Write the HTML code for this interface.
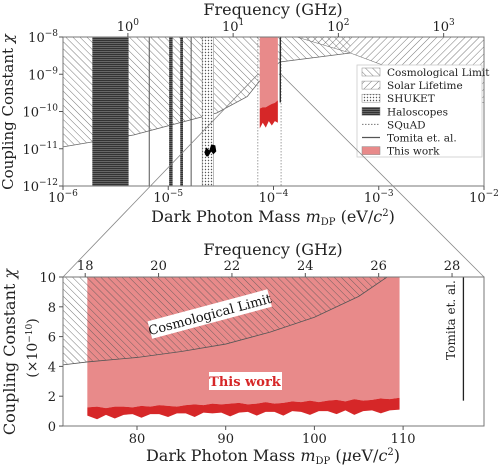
<!DOCTYPE html>
<html><head><meta charset="utf-8"><style>
body{margin:0;background:#fff;}
svg{display:block;font-family:"DejaVu Serif","Liberation Serif",serif;}
</style></head><body>
<svg id="c" width="500" height="466" viewBox="0 0 500 466">
<defs>
<pattern id="bs" width="5" height="5" patternUnits="userSpaceOnUse" patternTransform="rotate(-45)"><line x1="0" y1="0" x2="0" y2="5" stroke="#555" stroke-width="0.8"/></pattern>
<pattern id="fs" width="5" height="5" patternUnits="userSpaceOnUse" patternTransform="rotate(45)"><line x1="0" y1="0" x2="0" y2="5" stroke="#555" stroke-width="0.8"/></pattern>
<pattern id="dots" width="3" height="3" patternUnits="userSpaceOnUse"><rect width="3" height="3" fill="#fff"/><circle cx="1.5" cy="1.5" r="0.7" fill="#555"/></pattern>
<pattern id="hl" width="4" height="2" patternUnits="userSpaceOnUse"><rect width="4" height="2" fill="#666"/><line x1="0" y1="0.5" x2="4" y2="0.5" stroke="#333" stroke-width="1"/></pattern>
</defs>
<g id="top"></g>
<g id="bot"></g>
</svg>
<script>
// ---- top chart data ----
const cosmoMassLog=[-6,-5.33,-4.54,-4.25,-4.1,-3.94,-3.27];
const cosmoChiLog=[-10.95,-10.63,-10.04,-9.6,-9.07,-8.67,-8.43];
const solarMassLog=[-3.78,-3.27,-2.0];
const solarChiLog=[-8.0,-8.43,-9.77];
const haloBands=[[1.9e-6,4.2e-6],[1.02e-5,1.1e-5],[1.3e-5,1.38e-5]];
const haloLines=[6.6e-6,1.65e-5];
const shuket=[2.1e-5,2.7e-5];
const squad=[7.1e-5,1.18e-4];
const squadChi=1e-9;
const tomitaMass=1.16e-4, tomitaChi=[1e-8,1.75e-10];
const workTopMass=[7.4e-5,1.1e-4];
const workTopUpper=[1.2e-10,1.3e-10,1.3e-10,1.45e-10,1.6e-10,1.7e-10,2.0e-10];
const workTopLower=[3.5e-11,5e-11,3.7e-11,5.5e-11,4.2e-11,5.5e-11,5e-11];
const freqTicksTop=[1e0,1e1,1e2,1e3];
const freqTickLabelsTop=["0","1","2","3"];
const massTicksTop=[-6,-5,-4,-3,-2];
const chiTicksTop=[-8,-9,-10,-11,-12];
// ---- bottom chart data ----
const cosmoMassB=[71.6,74.4,80,85,90,95,100,105,108.2];
const cosmoChiB=[4.1,4.3,4.6,5.0,5.5,6.3,7.3,8.7,10];
const workMassB=[74.4,75.5,76.5,77.5,78.5,79.5,80.5,81.5,82.5,83.5,84.5,85.5,86.5,87.5,88.5,89.5,90.5,91.5,92.5,93.5,94.5,95.5,96.5,97.5,98.5,99.5,100.5,101.5,102.5,103.5,104.5,105.5,106.5,107.5,108.5,109.6];
const workUpperB=[1.25,1.3,1.2,1.3,1.3,1.25,1.35,1.3,1.4,1.35,1.3,1.4,1.45,1.4,1.5,1.45,1.5,1.55,1.45,1.5,1.6,1.5,1.55,1.65,1.6,1.7,1.6,1.7,1.75,1.65,1.8,1.7,1.75,1.85,1.8,1.9];
const workLowerB=[0.7,0.45,0.75,0.5,0.75,0.8,0.55,0.8,0.8,0.6,0.85,0.85,0.6,0.9,0.85,0.9,0.65,0.9,0.95,0.7,0.95,0.95,0.7,1.0,0.95,0.75,1.0,1.0,0.8,1.05,0.75,1.0,1.05,0.85,1.05,1.1];
const tomitaB=[116.8,10,1.7];
const massTicksB=[80,90,100,110];
const freqTicksB=[18,20,22,24,26,28];
const chiTicksB=[0,2,4,6,8,10];

const NS="http://www.w3.org/2000/svg";
function mk(tag,attrs,parent,txt){const e=document.createElementNS(NS,tag);for(const k in attrs)e.setAttribute(k,attrs[k]);if(txt!==undefined)e.textContent=txt;parent.appendChild(e);return e;}
const T=document.getElementById('top'),B=document.getElementById('bot');
const L=63,R=484,TT=37,TB=186;
const xT=m=>L+(Math.log10(m)+6)*105.25;
const xTl=l=>L+(l+6)*105.25;
const yT=c=>TT+(-8-Math.log10(c))*37.25;
const yTl=l=>TT+(-8-l)*37.25;
const K=4.1357e-6;

mk('clipPath',{id:'ct'},T);
mk('rect',{x:L,y:TT,width:R-L,height:TB-TT},document.getElementById('ct'));
const g=mk('g',{'clip-path':'url(#ct)'},T);
let d='M'+xTl(cosmoMassLog[0])+','+yTl(cosmoChiLog[0]);
cosmoMassLog.forEach((m,i)=>d+=' L'+xTl(m)+','+yTl(cosmoChiLog[i]));
d+=' L'+xTl(cosmoMassLog[cosmoMassLog.length-1])+','+TT+' L'+L+','+TT+'Z';
let e=mk('path',{d:d,fill:'url(#bs)'},g);

let dl='M'+xTl(cosmoMassLog[0])+','+yTl(cosmoChiLog[0]);
cosmoMassLog.forEach((m,i)=>dl+=' L'+xTl(m)+','+yTl(cosmoChiLog[i]));
mk('path',{d:dl,fill:'none',stroke:'#666','stroke-width':0.8},g);
let ds='M'+xTl(solarMassLog[0])+','+TT;
solarMassLog.forEach((m,i)=>ds+=' L'+xTl(m)+','+yTl(solarChiLog[i]));
ds+=' L'+R+','+yTl(solarChiLog[2])+' L'+R+','+TT+'Z';
e=mk('path',{d:ds,fill:'url(#fs)',stroke:'#777','stroke-width':0.6},g);

haloBands.forEach(b=>{const r=mk('rect',{x:xT(b[0]),y:TT,width:xT(b[1])-xT(b[0]),height:TB-TT,fill:'url(#hl)'},g);
});
haloLines.forEach(m=>mk('line',{x1:xT(m),x2:xT(m),y1:TT,y2:TB,stroke:'#555','stroke-width':1},g));
e=mk('rect',{x:xT(shuket[0]),y:TT,width:xT(shuket[1])-xT(shuket[0]),height:TB-TT,fill:'url(#dots)',stroke:'#777','stroke-width':0.5},g);

mk('path',{d:'M'+xT(2.2e-5)+','+yT(8e-12)+' l2,-5 l3,3 l2,-6 l4,1 l1,6 l-3,3 l-2,-3 l-3,5 l-2,0z',fill:'#000'},g);
squad.forEach(m=>mk('line',{x1:xT(m),x2:xT(m),y1:TT,y2:TB,stroke:'#777','stroke-width':0.7,'stroke-dasharray':'1.5,1.5'},g));
mk('line',{x1:xT(squad[0]),x2:xT(squad[1]),y1:yT(squadChi),y2:yT(squadChi),stroke:'#777','stroke-width':0.7,'stroke-dasharray':'1.5,1.5'},g);
const n=workTopUpper.length;
const wxs=i=>xT(workTopMass[0])+(xT(workTopMass[1])-xT(workTopMass[0]))*i/(n-1);
let dw='M'+wxs(0)+','+TT;
workTopUpper.forEach((c,i)=>dw+=' L'+wxs(i)+','+yT(c));
dw+=' L'+wxs(n-1)+','+TT+'Z';
e=mk('path',{d:dw,fill:'#e88a8a'},g);

let dd='M'+wxs(0)+','+yT(workTopUpper[0]);
workTopUpper.forEach((c,i)=>dd+=' L'+wxs(i)+','+yT(c));
for(let i=n-1;i>=0;i--)dd+=' L'+wxs(i)+','+yT(workTopLower[i]);
dd+='Z';
e=mk('path',{d:dd,fill:'#d62728'},g);

e=mk('line',{x1:xT(tomitaMass),x2:xT(tomitaMass),y1:yT(tomitaChi[0]),y2:yT(tomitaChi[1]),stroke:'#222','stroke-width':1.3},g);

mk('rect',{x:L,y:TT,width:R-L,height:TB-TT,fill:'none',stroke:'#777','stroke-width':1},T);
const fs=13;
massTicksTop.forEach(l=>{const x=xTl(l);mk('line',{x1:x,x2:x,y1:TB,y2:TB+4,stroke:'#555'},T);
const t=mk('text',{x:x,y:TB+16,'text-anchor':'middle','font-size':fs,fill:'#222'},T);
t.innerHTML='10<tspan dy="-6" font-size="9">'+(l).toString().replace('-','−')+'</tspan>';});
chiTicksTop.forEach(l=>{const y=yTl(l);mk('line',{x1:L-4,x2:L,y1:y,y2:y,stroke:'#555'},T);
const t=mk('text',{x:L-5,y:y+5,'text-anchor':'end','font-size':fs,fill:'#222'},T);
t.innerHTML='10<tspan dy="-6" font-size="9">'+l.toString().replace('-','−')+'</tspan>';});
freqTicksTop.forEach((f,i)=>{const x=xT(f*K);mk('line',{x1:x,x2:x,y1:TT-4,y2:TT,stroke:'#555'},T);
const t=mk('text',{x:x,y:TT-6,'text-anchor':'middle','font-size':fs,fill:'#222'},T);
t.innerHTML='10<tspan dy="-6" font-size="9">'+freqTickLabelsTop[i]+'</tspan>';});
e=mk('text',{x:273,y:15,'text-anchor':'middle','font-size':16,fill:'#222'},T,'Frequency (GHz)');
e=mk('text',{x:273,y:222,'text-anchor':'middle','font-size':16,fill:'#222'},T);e.innerHTML='Dark Photon Mass <tspan font-style="italic">m</tspan><tspan font-size="10" dy="3">DP</tspan><tspan dy="-3"> (eV/</tspan><tspan font-style="italic">c</tspan><tspan font-size="10" dy="-6">2</tspan><tspan dy="6">)</tspan>';

e=mk('text',{x:0,y:0,'text-anchor':'middle','font-size':15,fill:'#222',transform:'translate(13,112) rotate(-90)'},T);e.innerHTML='Coupling Constant <tspan font-style="italic">χ</tspan>';

const lg=mk('g',{},T);
mk('rect',{x:357,y:65,width:125,height:92,fill:'#fff',stroke:'#ccc','stroke-width':0.8},lg);
const items=[['Cosmological Limit','url(#bs)'],['Solar Lifetime','url(#fs)'],['SHUKET','url(#dots)'],['Haloscopes','url(#hl)'],['SQuAD','dash'],['Tomita et. al.','line'],['This work','#e88a8a']];
items.forEach((it,i)=>{const y=72+i*13.1;
if(it[1]==='dash')mk('line',{x1:362,x2:380,y1:y,y2:y,stroke:'#777','stroke-dasharray':'1.5,1.5'},lg);
else if(it[1]==='line')mk('line',{x1:362,x2:380,y1:y,y2:y,stroke:'#555','stroke-width':1.2},lg);
else mk('rect',{x:362,y:y-4,width:18,height:8,fill:it[1],stroke:'#888','stroke-width':0.5},lg);
const t=mk('text',{x:387,y:y+4,'font-size':10.5,fill:'#222'},lg,it[0]);});
mk('line',{x1:xT(squad[0]),y1:yT(squadChi),x2:63,y2:277,stroke:'#888','stroke-width':0.8},T);
mk('line',{x1:xT(squad[1]),y1:yT(squadChi),x2:484,y2:277,stroke:'#888','stroke-width':0.8},T);

// ---- bottom ----
const BT=277,BB=426;
const xB=m=>137+(m-80)*8.87;
const yB=c=>BB-c*14.9;
mk('clipPath',{id:'cb'},B);
mk('rect',{x:L,y:BT,width:R-L,height:BB-BT},document.getElementById('cb'));
const gb=mk('g',{'clip-path':'url(#cb)'},B);
const m=workMassB.length;
let wb='M'+xB(workMassB[0])+','+BT;
workMassB.forEach((mm,i)=>wb+=' L'+xB(mm)+','+yB(workUpperB[i]));
wb+=' L'+xB(workMassB[m-1])+','+BT+'Z';
e=mk('path',{d:wb,fill:'#e88a8a'},gb);
let wd='M'+xB(workMassB[0])+','+yB(workUpperB[0]);
workMassB.forEach((mm,i)=>wd+=' L'+xB(mm)+','+yB(workUpperB[i]));
for(let i=m-1;i>=0;i--)wd+=' L'+xB(workMassB[i])+','+yB(workLowerB[i]);
wd+='Z';
e=mk('path',{d:wd,fill:'#d62728'},gb);
let cb='M'+xB(cosmoMassB[0])+','+yB(cosmoChiB[0]);
cosmoMassB.forEach((mm,i)=>cb+=' L'+xB(mm)+','+yB(cosmoChiB[i]));
const cbl=cb;
cb+=' L'+L+','+BT+'Z';
e=mk('path',{d:cb,fill:'url(#bs)'},gb);
mk('path',{d:cbl,fill:'none',stroke:'#555','stroke-width':0.8},gb);
e=mk('line',{x1:xB(tomitaB[0]),x2:xB(tomitaB[0]),y1:yB(tomitaB[1]),y2:yB(tomitaB[2]),stroke:'#222','stroke-width':1.3},gb);

mk('rect',{x:L,y:BT,width:R-L,height:BB-BT,fill:'none',stroke:'#777','stroke-width':1},B);
massTicksB.forEach(v=>{const x=xB(v);mk('line',{x1:x,x2:x,y1:BB,y2:BB+4,stroke:'#555'},B);
const t=mk('text',{x:x,y:BB+17,'text-anchor':'middle','font-size':13,fill:'#222'},B,String(v));});
chiTicksB.forEach(v=>{const y=yB(v);mk('line',{x1:L-4,x2:L,y1:y,y2:y,stroke:'#555'},B);
const t=mk('text',{x:L-7,y:y+5,'text-anchor':'end','font-size':13,fill:'#222'},B,String(v));});
freqTicksB.forEach(f=>{const x=xB(f*K*1e6)-2.5;mk('line',{x1:x,x2:x,y1:BT-4,y2:BT,stroke:'#555'},B);
const t=mk('text',{x:x,y:BT-7,'text-anchor':'middle','font-size':13,fill:'#222'},B,String(f));});
e=mk('text',{x:273,y:255,'text-anchor':'middle','font-size':16,fill:'#222'},B,'Frequency (GHz)');
e=mk('text',{x:273,y:461,'text-anchor':'middle','font-size':16,fill:'#222'},B);e.innerHTML='Dark Photon Mass <tspan font-style="italic">m</tspan><tspan font-size="10" dy="3">DP</tspan><tspan dy="-3"> (</tspan><tspan font-style="italic">μ</tspan>eV/<tspan font-style="italic">c</tspan><tspan font-size="10" dy="-6">2</tspan><tspan dy="6">)</tspan>';

e=mk('text',{x:0,y:0,'text-anchor':'middle','font-size':16,fill:'#222',transform:'translate(15,352) rotate(-90)'},B);e.innerHTML='Coupling Constant <tspan font-style="italic">χ</tspan>';

e=mk('text',{x:0,y:0,'text-anchor':'middle','font-size':14,fill:'#222',transform:'translate(37,348) rotate(-90)'},B);e.innerHTML='(×10<tspan dy="-5" font-size="9">−10</tspan><tspan dy="5">)</tspan>';

const a1=mk('g',{transform:'translate(210,315) rotate(-15)'},B);
mk('rect',{x:-62,y:-10,width:124,height:18,fill:'#fff'},a1);
mk('text',{x:0,y:4,'text-anchor':'middle','font-size':13,fill:'#111'},a1,'Cosmological Limit');
const a2=mk('g',{},B);
mk('rect',{x:209,y:372,width:73,height:18,fill:'#fff'},a2);
mk('text',{x:245,y:386,'text-anchor':'middle','font-size':13,'font-weight':'bold',fill:'#d62728'},a2,'This work');
e=mk('text',{x:0,y:0,'text-anchor':'middle','font-size':12,fill:'#222',transform:'translate(455,320) rotate(-90)'},B,'Tomita et. al.');

</script>
</body></html>
